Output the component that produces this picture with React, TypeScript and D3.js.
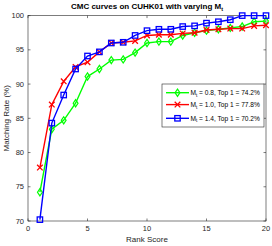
import React from 'react';
import * as d3 from 'd3';

const ranks = d3.range(1, 21);
const green = [74.2, 83.4, 84.7, 87.2, 91.1, 92.2, 93.5, 93.6, 94.6, 96.0, 96.2, 96.2, 97.1, 97.5, 97.8, 98.0, 98.2, 98.4, 99.1, 99.2];
const red = [77.8, 87.0, 90.4, 92.5, 93.2, 94.7, 96.0, 96.1, 96.3, 97.1, 97.2, 97.2, 97.4, 97.5, 97.9, 98.0, 98.1, 98.1, 98.5, 98.6];
const blue = [70.2, 84.3, 88.4, 92.2, 94.1, 94.7, 96.0, 96.1, 97.1, 97.8, 98.0, 98.0, 98.4, 98.5, 98.9, 99.1, 99.4, 100, 100, 100];
const mtValues = ['0.8', '1.0', '1.4'];
const top1 = ['74.2', '77.8', '70.2'];
const xTicks = [0, 5, 10, 15, 20];
const yTicks = [70, 75, 80, 85, 90, 95, 100];

const series = [
  { values: green, color: '#00ff00', marker: 'diamond' },
  { values: red, color: '#ff0000', marker: 'x' },
  { values: blue, color: '#0000ff', marker: 'square' },
];

const font = '"Liberation Sans", Arial, sans-serif';
const axisColor = '#262626';

const Marker = ({ kind, x, y, color }: { kind: string; x: number; y: number; color: string }) => {
  if (kind === 'diamond') {
    return <path d={`M${x},${y - 3.6}L${x + 2.4},${y}L${x},${y + 3.6}L${x - 2.4},${y}Z`} fill="none" stroke={color} strokeWidth={1.2} />;
  }
  if (kind === 'x') {
    const s = 2.8;
    return <path d={`M${x - s},${y - s}L${x + s},${y + s}M${x - s},${y + s}L${x + s},${y - s}`} stroke={color} strokeWidth={1.3} />;
  }
  return <rect x={x - 2.7} y={y - 2.7} width={5.4} height={5.4} fill="none" stroke={color} strokeWidth={1.3} />;
};

const App = () => {
  const width = 272;
  const height = 246;
  const left = 28, right = 266, top = 15.6, bottom = 221;

  const x = d3.scaleLinear().domain([0, 20]).range([left, right]);
  const y = d3.scaleLinear().domain([70, 100]).range([bottom, top]);
  const line = d3.line<number>().x((_, i) => x(ranks[i])).y((d) => y(d));

  const legendX = 162, legendY = 84, legendW = 102, legendH = 43;
  const legendRows = [92.7, 104.6, 118.3];

  return (
    <svg width={width} height={height} style={{ position: 'absolute', left: 0, top: 0, background: '#fff' }} fontFamily={font}>
      <rect x={0} y={0} width={width} height={height} fill="#fff" />
      <rect x={left} y={top} width={right - left} height={bottom - top} fill="#fff" stroke={axisColor} strokeWidth={0.6} />

      {xTicks.map((t) => (
        <g key={'x' + t}>
          <line x1={x(t)} x2={x(t)} y1={bottom} y2={bottom - 2.5} stroke={axisColor} strokeWidth={0.6} />
          <line x1={x(t)} x2={x(t)} y1={top} y2={top + 2.5} stroke={axisColor} strokeWidth={0.6} />
          <text x={x(t)} y={bottom + 10} textAnchor="middle" fontSize={7.5} fill={axisColor}>{t}</text>
        </g>
      ))}
      {yTicks.map((t) => (
        <g key={'y' + t}>
          <line x1={left} x2={left + 2.5} y1={y(t)} y2={y(t)} stroke={axisColor} strokeWidth={0.6} />
          <line x1={right} x2={right - 2.5} y1={y(t)} y2={y(t)} stroke={axisColor} strokeWidth={0.6} />
          <text x={left - 4} y={y(t) + 2.6} textAnchor="end" fontSize={7.5} fill={axisColor}>{t}</text>
        </g>
      ))}

      {series.map((s, k) => (
        <g key={k}>
          <path d={line(s.values) || ''} fill="none" stroke={s.color} strokeWidth={1.4} />
          {s.values.map((v, i) => (
            <Marker key={i} kind={s.marker} x={x(ranks[i])} y={y(v)} color={s.color} />
          ))}
        </g>
      ))}

      <text x={147} y={9} textAnchor="middle" fontSize={8} fontWeight="bold" fill="#000">
        CMC curves on CUHK01 with varying M<tspan fontSize={5.5} dy={2}>t</tspan>
      </text>
      <text x={147} y={242} textAnchor="middle" fontSize={8} fill={axisColor}>Rank Score</text>
      <text transform={`translate(9,${(top + bottom) / 2}) rotate(-90)`} textAnchor="middle" fontSize={8} fill={axisColor}>Matching Rate (%)</text>

      <rect x={legendX} y={legendY} width={legendW} height={legendH} fill="#fff" stroke={axisColor} strokeWidth={0.6} />
      {series.map((s, k) => (
        <g key={'l' + k}>
          <line x1={166} x2={189} y1={legendRows[k]} y2={legendRows[k]} stroke={s.color} strokeWidth={1.4} />
          <Marker kind={s.marker} x={177.5} y={legendRows[k]} color={s.color} />
          <text x={190.5} y={legendRows[k] + 2.5} fontSize={6.6} fill="#000">
            M<tspan fontSize={4.6} dy={1.5}>t</tspan><tspan dy={-1.5}>{` = ${mtValues[k]}, Top 1 = ${top1[k]}%`}</tspan>
          </text>
        </g>
      ))}
    </svg>
  );
};

export default App;
